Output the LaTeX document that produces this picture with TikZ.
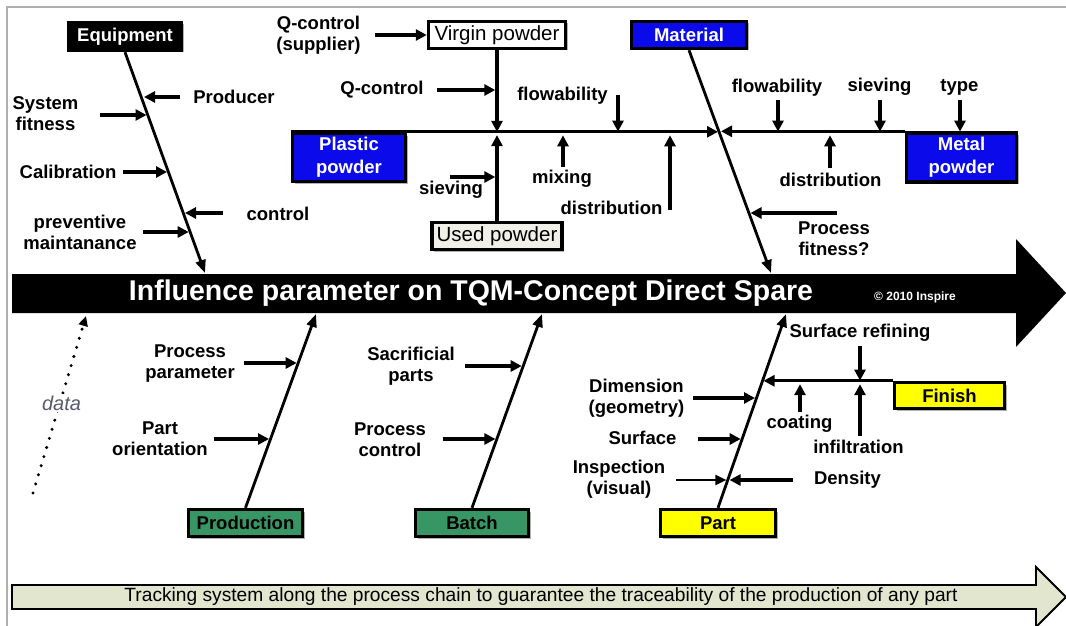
\documentclass[tikz,border=0pt]{standalone}
\usepackage{fontspec}
\usepackage{graphicx}
\setmainfont{Liberation Sans}
\usetikzlibrary{arrows.meta,shadows}

\definecolor{boxblue}{RGB}{10,10,235}
\definecolor{boxgreen}{RGB}{55,150,100}
\definecolor{boxyellow}{RGB}{255,255,0}
\definecolor{usedfill}{RGB}{240,240,232}
\definecolor{trackfill}{RGB}{226,230,206}
\definecolor{framegray}{RGB}{175,175,175}
\definecolor{datagray}{RGB}{90,90,110}

\begin{document}
\begin{tikzpicture}[x=1pt,y=-1pt,
  lbl/.style={font=\fontsize{18.5}{21}\selectfont\bfseries,align=center,inner sep=0pt},
  boxbase/.style={draw=black,line width=3.4pt,inner sep=0pt,align=center,
    font=\fontsize{18.5}{23}\selectfont\bfseries,
    drop shadow={shadow xshift=2pt,shadow yshift=-2pt,fill=black,opacity=0.3}},
  blackbox/.style={boxbase,fill=black,text=white},
  bluebox/.style={boxbase,fill=boxblue,text=white},
  greenbox/.style={boxbase,fill=boxgreen,text=black},
  yellowbox/.style={boxbase,fill=boxyellow,text=black},
  stockbox/.style={boxbase,font=\fontsize{20.5}{23}\selectfont},
  spine/.style={line width=2.8pt,-{Triangle[length=13pt,width=10pt]}},
  rib/.style={line width=3.4pt,-{Triangle[length=11pt,width=11pt]}},
  thinrib/.style={line width=2pt,-{Triangle[length=11pt,width=10pt]}},
  feed/.style={line width=3.2pt},
]
\fill[white] (0,0) rectangle (1066,626);
\useasboundingbox (0,0) rectangle (1066,626);
\draw[framegray,line width=1.2pt] (7,626) -- (7,7) -- (1066,7);

% ---- main effect arrow ----
\fill[black] (12,274) -- (1016,274) -- (1016,239) -- (1066,293) -- (1016,347)
  -- (1016,313) -- (12,313) -- cycle;
\node[font=\fontsize{28.5}{30}\selectfont\bfseries,text=white,inner sep=0pt] (title) at (471,293)
  {Influence parameter on TQM-Concept Direct Spare};
\node[font=\fontsize{12}{13}\selectfont\bfseries,text=white,inner sep=0pt] (copy) at (915,297)
  {\textcopyright{} 2010 Inspire};

% ---- tracking arrow ----
\draw[line width=1.8pt,fill=trackfill,line join=miter] (12,585) -- (1036,585) -- (1036,567)
  -- (1066,597) -- (1036,627) -- (1036,609) -- (12,609) -- cycle;
\node[inner sep=0pt] (track) at (541,597) {\resizebox{833pt}{!}{\fontsize{15}{17}\selectfont
  Tracking system along the process chain to guarantee the traceability of the production of any part}};

% ---- category boxes ----
\node[blackbox,minimum width=113pt,minimum height=28pt] (equip) at (125,36.5) {Equipment};
\node[stockbox,fill=white,minimum width=137pt,minimum height=27pt] (virgin) at (497,35) {Virgin powder};
\node[bluebox,minimum width=113pt,minimum height=48pt] (plastic) at (349,157.5) {Plastic\\powder};
\node[stockbox,fill=usedfill,minimum width=130pt,minimum height=27pt] (used) at (497,236) {Used powder};
\node[bluebox,minimum width=115pt,minimum height=27pt] (material) at (689,35) {Material};
\node[bluebox,minimum width=110pt,minimum height=49pt] (metal) at (961.5,157.5) {Metal\\powder};
\node[greenbox,minimum width=114pt,minimum height=27pt] (prod) at (245.5,523) {Production};
\node[greenbox,minimum width=113pt,minimum height=27pt] (batch) at (472,523) {Batch};
\node[yellowbox,minimum width=115pt,minimum height=27pt] (part) at (718,523) {Part};
\node[yellowbox,minimum width=110pt,minimum height=26pt] (finish) at (949.5,395.5) {Finish};

% ---- spine end points on the main arrow ----
\coordinate (eqEnd) at (205,273);
\coordinate (matEnd) at (771,273);
\coordinate (prodEnd) at (316,314);
\coordinate (batchEnd) at (542,314);
\coordinate (partEnd) at (786,314);
\coordinate (dataEnd) at (86,316);
\coordinate (dataStart) at (33,493);

\draw[spine] (equip.south) -- (eqEnd);
\draw[spine] (material.south) -- (matEnd);
\draw[spine] (prod.north) -- (prodEnd);
\draw[spine] (batch.north) -- (batchEnd);
\draw[spine] (part.north) -- (partEnd);
\draw[line width=3.3pt,line cap=round,dash pattern=on 0pt off 9.5pt,
  -{Triangle[length=10pt,width=9pt]}] (dataStart) -- (dataEnd);

% ---- powder feed lines ----
\coordinate (plastTip) at (718,133.5);
\coordinate (metalTip) at (721,133.5);
\coordinate (junction) at (497,133.5);
\draw[feed,-{Triangle[length=11pt,width=11pt]}] (plastic.north west) -- (plastic.north west -| plastTip);
\draw[feed,-{Triangle[length=11pt,width=11pt]}] (metal.north west) -- (metal.north west -| metalTip);
\draw[rib,shorten >=1.6pt] (virgin.south) -- (junction);
\draw[rib,shorten >=1.6pt] (used.north) -- (junction);
\coordinate (finishTip) at (763.5,382.4);
\draw[feed,-{Triangle[length=11pt,width=11pt]}] (finish.north west) -- (finish.north west -| finishTip);

% ---- labels ----
\node[lbl] (producer) at (234,97) {Producer};
\node[lbl] (sysfit) at (45.5,114) {System\\fitness};
\node[lbl] (calib) at (68,172) {Calibration};
\node[lbl] (control) at (278,214) {control};
\node[lbl] (prevent) at (80,232.5) {preventive\\maintanance};
\node[lbl] (qsup) at (318.5,35.5) {Q-control\\(supplier)};
\node[lbl] (qctl) at (382,90) {Q-control};
\node[lbl] (sievL) at (451,190) {sieving};
\node[lbl] (mixing) at (562,179) {mixing};
\node[lbl] (flowL) at (562.5,96) {flowability};
\node[lbl] (distL) at (611.5,208) {distribution};
\node[lbl] (flowR) at (777,88) {flowability};
\node[lbl] (sievR) at (879.5,87) {sieving};
\node[lbl] (typeL) at (959.5,87) {type};
\node[lbl] (distR) at (830.5,180) {distribution};
\node[lbl] (procfit) at (834,239) {Process\\fitness?};
\node[lbl] (procpar) at (190,363.5) {Process\\parameter};
\node[lbl] (partor) at (160,438.5) {Part\\orientation};
\node[lbl] (sacr) at (411,366) {Sacrificial\\parts};
\node[lbl] (procctl) at (390,439.5) {Process\\control};
\node[lbl] (surfref) at (860,333) {Surface refining};
\node[lbl] (coating) at (799.5,424) {coating};
\node[lbl] (infil) at (858.5,447) {infiltration};
\node[lbl] (dimgeo) at (636.5,398.5) {Dimension\\(geometry)};
\node[lbl] (surface) at (642.5,438) {Surface};
\node[lbl] (inspect) at (619,479) {Inspection\\(visual)};
\node[lbl] (density) at (847.5,480) {Density};
\node[inner sep=2pt,fill=white,font=\fontsize{20}{22}\selectfont\itshape,text=datagray] (data) at (61.5,403) {data};

% ---- rib arrow start and end points ----
\coordinate (aProd1) at (180,97);   \coordinate (bProd1) at (144,97);
\coordinate (aSys1) at (100,115);   \coordinate (bSys1) at (146.5,115);
\coordinate (aCal1) at (123,172);   \coordinate (bCal1) at (167,172);
\coordinate (aCtl1) at (223,213);   \coordinate (bCtl1) at (185,213);
\coordinate (aPrev) at (143,232);   \coordinate (bPrev) at (188.7,232);
\coordinate (aQsup) at (375,35);
\coordinate (aQctl) at (437,90);    \coordinate (bQctl) at (495.3,90);
\coordinate (aSievL) at (450,177);  \coordinate (bSievL) at (495.3,177);
\coordinate (aMix) at (563,167);    \coordinate (bMix) at (563,135.3);
\coordinate (aFlowL) at (618,95);   \coordinate (bFlowL) at (618,131.6);
\coordinate (aDistL) at (670,210);  \coordinate (bDistL) at (670,135.3);
\coordinate (aFlowR) at (778,100);  \coordinate (bFlowR) at (778,131.6);
\coordinate (aSievR) at (880,100);  \coordinate (bSievR) at (880,131.6);
\coordinate (aType) at (960,100);   \coordinate (bType) at (960,131.6);
\coordinate (aDistR) at (830,168);  \coordinate (bDistR) at (830,135.3);
\coordinate (aFit) at (837,213);    \coordinate (bFit) at (750.5,213);
\coordinate (aPar) at (244,363);    \coordinate (bPar) at (296.7,363);
\coordinate (aOri) at (214,439);    \coordinate (bOri) at (269,439);
\coordinate (aSac) at (465,366);    \coordinate (bSac) at (521.7,366);
\coordinate (aPctl) at (443,439);   \coordinate (bPctl) at (495.4,439);
\coordinate (aRef) at (860,346);    \coordinate (bRef) at (860,380.6);
\coordinate (aCoat) at (800,412);   \coordinate (bCoat) at (800,384.2);
\coordinate (aInf) at (860,436);    \coordinate (bInf) at (860,384.2);
\coordinate (aDim) at (693,398);    \coordinate (bDim) at (755,398);
\coordinate (aSurf) at (698,439);   \coordinate (bSurf) at (740.7,439);
\coordinate (aInsp) at (676,480);   \coordinate (bInsp) at (726.4,480);
\coordinate (aDens) at (793,480);   \coordinate (bDens) at (729.6,480);

\draw[rib] (aProd1) -- (bProd1);
\draw[rib] (aSys1) -- (bSys1);
\draw[rib] (aCal1) -- (bCal1);
\draw[rib] (aCtl1) -- (bCtl1);
\draw[rib] (aPrev) -- (bPrev);
\draw[rib] (aQsup) -- (virgin.west);
\draw[rib] (aQctl) -- (bQctl);
\draw[rib] (aSievL) -- (bSievL);
\draw[rib] (aMix) -- (bMix);
\draw[rib] (aFlowL) -- (bFlowL);
\draw[rib] (aDistL) -- (bDistL);
\draw[rib] (aFlowR) -- (bFlowR);
\draw[rib] (aSievR) -- (bSievR);
\draw[rib] (aType) -- (bType);
\draw[rib] (aDistR) -- (bDistR);
\draw[rib] (aFit) -- (bFit);
\draw[rib] (aPar) -- (bPar);
\draw[rib] (aOri) -- (bOri);
\draw[rib] (aSac) -- (bSac);
\draw[rib] (aPctl) -- (bPctl);
\draw[rib] (aRef) -- (bRef);
\draw[rib] (aCoat) -- (bCoat);
\draw[rib] (aInf) -- (bInf);
\draw[rib] (aDim) -- (bDim);
\draw[rib] (aSurf) -- (bSurf);
\draw[thinrib] (aInsp) -- (bInsp);
\draw[rib] (aDens) -- (bDens);
\end{tikzpicture}
\end{document}
